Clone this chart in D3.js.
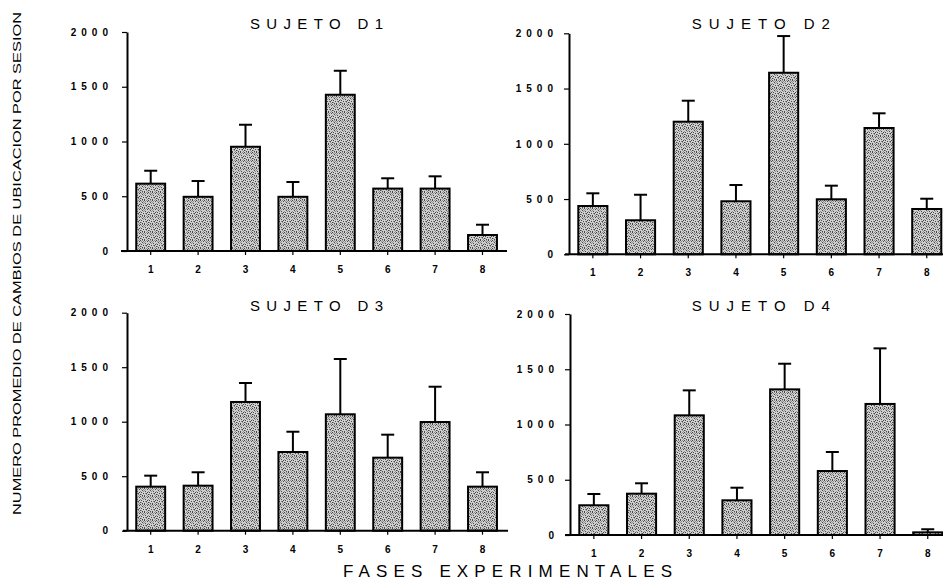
<!DOCTYPE html>
<html>
<head>
<meta charset="utf-8">
<script src="https://cdn.jsdelivr.net/npm/d3@7"></script>
<style>
  body { margin: 0; background: #fff; }
  svg { display: block; }
  text { font-family: "Liberation Sans", Arial, sans-serif; fill: #000; }
</style>
</head>
<body>
<script>
// Experimental phases on the x axis and the four subjects (one panel each)
const phases = ["1", "2", "3", "4", "5", "6", "7", "8"];
const subjects = ["SUJETO D1", "SUJETO D2", "SUJETO D3", "SUJETO D4"];

// Mean location changes per session, and the upper error (deviation) per phase
const meanD1 = [615, 495, 952, 495, 1427, 570, 570, 146];
const errD1  = [118, 144, 201, 135, 219, 94, 112, 94];
const meanD2 = [437, 308, 1200, 480, 1643, 498, 1143, 410];
const errD2  = [115, 231, 190, 147, 332, 123, 133, 93];
const meanD3 = [404, 413, 1181, 722, 1068, 670, 997, 404];
const errD3  = [101, 123, 174, 186, 507, 211, 324, 132];
const meanD4 = [269, 374, 1083, 314, 1318, 579, 1186, 24];
const errD4  = [102, 94, 226, 114, 232, 172, 503, 28];

const yTicks = [0, 500, 1000, 1500, 2000];
const yMax = 2000;
const yTitle = "NUMERO PROMEDIO DE CAMBIOS DE UBICACION POR SESION";
const xTitle = "FASES EXPERIMENTALES";

const means = [meanD1, meanD2, meanD3, meanD4];
const errs = [errD1, errD2, errD3, errD4];

// Panel geometry (pixels)
const layout = [
  { x0: 127, step: 47.4, yTop: 32,    yBase: 251,   titleX: 316.5, titleY: 28.5,  titleLen: 133, gap: 19, lineStart: 121, lineEnd: 507 },
  { x0: 569, step: 47.7, yTop: 33.3,  yBase: 254.3, titleX: 760.8, titleY: 29.3,  titleLen: 138, gap: 16, lineStart: 565, lineEnd: 960 },
  { x0: 127, step: 47.4, yTop: 312.7, yBase: 530.7, titleX: 316.5, titleY: 310.7, titleLen: 133, gap: 19, lineStart: 123, lineEnd: 508 },
  { x0: 570, step: 47.7, yTop: 314,   yBase: 535,   titleX: 760.8, titleY: 310.7, titleLen: 138, gap: 16, lineStart: 565, lineEnd: 960 }
];

const W = 943, H = 581;
const svg = d3.select("body").append("svg").attr("width", W).attr("height", H);

// Stippled grey fill used by the bars
const defs = svg.append("defs");
const pat = defs.append("pattern")
  .attr("id", "stipple").attr("patternUnits", "userSpaceOnUse")
  .attr("width", 8).attr("height", 8);
pat.append("rect").attr("width", 8).attr("height", 8).attr("fill", "#d0d0d0");
const darkDots = [[0,0],[3,1],[6,2],[1,3],[5,4],[2,5],[7,5],[4,6],[0,7],[6,7],[4,0],[3,4]];
const midDots  = [[2,0],[5,1],[0,2],[4,3],[7,3],[1,5],[3,7],[6,0],[2,6],[7,1],[5,6],[1,1]];
pat.selectAll("rect.d").data(darkDots).join("rect").attr("class", "d")
  .attr("x", d => d[0]).attr("y", d => d[1]).attr("width", 1).attr("height", 1)
  .attr("fill", "#474747").attr("shape-rendering", "crispEdges");
pat.selectAll("rect.m").data(midDots).join("rect").attr("class", "m")
  .attr("x", d => d[0]).attr("y", d => d[1]).attr("width", 1).attr("height", 1)
  .attr("fill", "#8e8e8e").attr("shape-rendering", "crispEdges");

subjects.forEach((name, i) => {
  const L = layout[i];
  const g = svg.append("g");

  const x = d3.scaleBand()
    .domain(phases)
    .range([L.x0, L.x0 + L.step * phases.length])
    .paddingInner(0.39)
    .paddingOuter(0.195);
  const y = d3.scaleLinear().domain([0, yMax]).range([L.yBase, L.yTop]);

  const rows = phases.map((p, k) => ({ p, v: means[i][k], e: errs[i][k] }));

  // Bars
  g.selectAll("rect.bar")
    .data(rows)
    .join("rect")
    .attr("class", "bar")
    .attr("x", d => x(d.p))
    .attr("y", d => y(d.v))
    .attr("width", x.bandwidth())
    .attr("height", d => y(0) - y(d.v))
    .attr("fill", "url(#stipple)")
    .attr("stroke", "#000")
    .attr("stroke-width", 2);

  // Upper error bars
  const eb = g.selectAll("g.err").data(rows).join("g").attr("class", "err");
  eb.append("line")
    .attr("x1", d => x(d.p) + x.bandwidth() / 2)
    .attr("x2", d => x(d.p) + x.bandwidth() / 2)
    .attr("y1", d => y(d.v))
    .attr("y2", d => y(d.v + d.e))
    .attr("stroke", "#000").attr("stroke-width", 2);
  eb.append("line")
    .attr("x1", d => x(d.p) + x.bandwidth() / 2 - 6.5)
    .attr("x2", d => x(d.p) + x.bandwidth() / 2 + 6.5)
    .attr("y1", d => y(d.v + d.e))
    .attr("y2", d => y(d.v + d.e))
    .attr("stroke", "#000").attr("stroke-width", 2);

  // Y axis
  const yAxis = d3.axisLeft(y).tickValues(yTicks).tickFormat(d3.format("d"))
    .tickSize(5).tickSizeOuter(0)
    .tickPadding(L.gap - 5 - 5);
  const ya = g.append("g").attr("transform", `translate(${L.x0},0)`).call(yAxis);
  ya.select(".domain").attr("stroke-width", 2);
  ya.selectAll(".tick line").attr("stroke-width", 1.2);
  ya.selectAll(".tick text")
    .attr("font-size", 10).attr("font-weight", "bold")
    .attr("letter-spacing", "5px")
    .attr("font-family", "'Liberation Sans', Arial, sans-serif");

  // X axis (ticks and labels), with the baseline drawn a little wider
  const xAxis = d3.axisBottom(x).tickSize(4).tickSizeOuter(0).tickPadding(11);
  const xa = g.append("g").attr("transform", `translate(0,${L.yBase})`).call(xAxis);
  xa.select(".domain").remove();
  xa.selectAll(".tick line").attr("stroke-width", 1.2);
  xa.selectAll(".tick text")
    .attr("font-size", 10).attr("font-weight", "bold")
    .attr("font-family", "'Liberation Sans', Arial, sans-serif");
  g.append("line")
    .attr("x1", L.lineStart).attr("x2", L.lineEnd)
    .attr("y1", L.yBase).attr("y2", L.yBase)
    .attr("stroke", "#000").attr("stroke-width", 2);

  // Panel title
  g.append("text")
    .attr("x", L.titleX).attr("y", L.titleY)
    .attr("text-anchor", "middle")
    .attr("font-size", 15)
    .attr("textLength", L.titleLen)
    .attr("lengthAdjust", "spacing")
    .text(name);
});

// Shared axis titles
svg.append("text")
  .attr("transform", "translate(21,263.5) rotate(-90)")
  .attr("text-anchor", "middle")
  .attr("font-size", 11)
  .attr("textLength", 503)
  .attr("lengthAdjust", "spacingAndGlyphs")
  .text(yTitle);

svg.append("text")
  .attr("x", 507.5).attr("y", 577)
  .attr("text-anchor", "middle")
  .attr("font-size", 17)
  .attr("textLength", 329)
  .attr("lengthAdjust", "spacing")
  .text(xTitle);
</script>
</body>
</html>
